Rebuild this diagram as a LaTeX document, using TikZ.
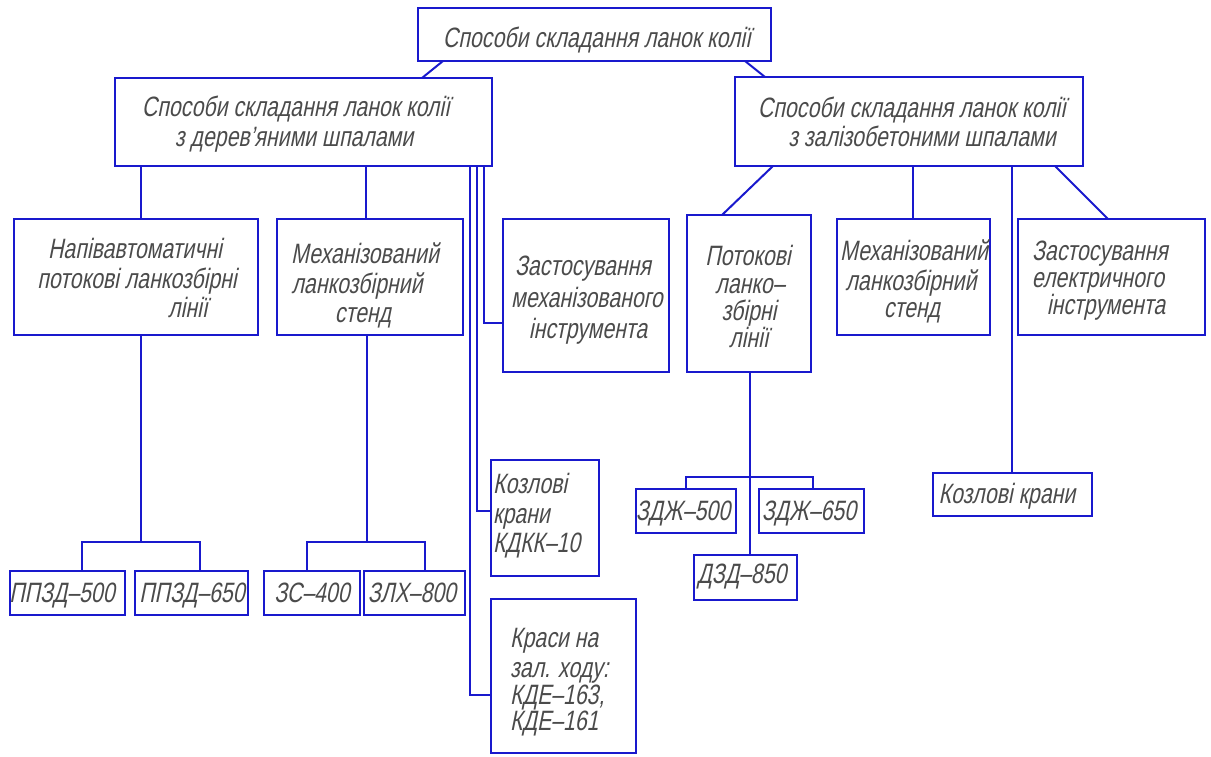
\documentclass[tikz,border=0pt]{standalone}
\usepackage{fontspec}
\newfontfamily\gost{Liberation Sans}[FakeSlant=0.2,FakeStretch=0.76]
\definecolor{lnblue}{RGB}{25,25,205}
\definecolor{txgray}{RGB}{75,75,75}
\newcommand\bx[5]{\node[blk,minimum width={(#4)-(#2)},minimum height={(#5)-(#3)}] (#1) at ({((#2)+(#4))/2},{((#3)+(#5))/2}) {};}
\newcommand\tl[4]{\node[txt] (#1) at (#2,#3) {#4};}
\newcommand\tlw[4]{\node[txt,anchor=base west] (#1) at (#2,#3) {#4};}
\begin{document}
\begin{tikzpicture}[x=1pt,y=-1pt,
  blk/.style={draw=lnblue,line width=2pt,inner sep=0pt,outer sep=0pt},
  wire/.style={draw=lnblue,line width=2pt},
  txt/.style={font=\gost\fontsize{28}{30}\selectfont,text=txgray,inner sep=0pt,anchor=base}]
\useasboundingbox (0,0) rectangle (1211,756);
% boxes
\bx{top}{418}{8}{771}{61}
\bx{wood}{115}{78}{492}{166}
\bx{conc}{735}{77}{1083}{166}
\bx{napiv}{14}{219}{258}{335}
\bx{mech1}{277}{219}{463}{335}
\bx{zmech}{503}{219}{669}{372}
\bx{potok}{687}{215}{811}{372}
\bx{mech2}{837}{219}{990}{335}
\bx{zel}{1018}{219}{1205}{335}
\bx{p500}{10}{571}{125}{615}
\bx{p650}{135}{571}{248}{615}
\bx{zs}{264}{571}{360}{615}
\bx{zlh}{364}{571}{465}{615}
\bx{kdkk}{491}{460}{599}{576}
\bx{krasy}{491}{599}{636}{753}
\bx{zd500}{636}{489}{736}{533}
\bx{zd650}{759}{489}{864}{533}
\bx{dzd}{694}{555}{797}{600}
\bx{kozl}{933}{473}{1092}{516}
% texts
\tl{t1}{597}{47}{Способи складання ланок колії}
\tl{t2}{296}{116}{Способи складання ланок колії}
\tl{t3}{294}{146}{з дерев’яними шпалами}
\tl{t4}{912}{117}{Способи складання ланок колії}
\tl{t5}{922}{146}{з залізобетоними шпалами}
\tl{t6}{135}{258}{Напівавтоматичні}
\tl{t7}{137}{288}{потокові ланкозбірні}
\tl{t8}{188}{317}{лінії}
\tl{t9}{365}{263}{Механізований}
\tl{t10}{357}{293}{ланкозбірний}
\tl{t11}{363}{322}{стенд}
\tl{t12}{583}{275}{Застосування}
\tl{t13}{587}{307}{механізованого}
\tl{t14}{588}{338}{інструмента}
\tl{t15}{748}{265}{Потокові}
\tl{t16}{750}{293}{ланко–}
\tl{t17}{749}{320}{збірні}
\tl{t18}{749}{347}{лінії}
\tl{t19}{914}{260}{Механізований}
\tl{t20}{911}{290}{ланкозбірний}
\tl{t21}{912}{317}{стенд}
\tl{t22}{1100}{260}{Застосування}
\tl{t23}{1098}{287}{електричного}
\tl{t24}{1106}{314}{інструмента}
\tl{t25}{62}{602}{ППЗД–500}
\tl{t26}{192}{602}{ППЗД–650}
\tl{t27}{312}{602}{ЗС–400}
\tl{t28}{412}{602}{ЗЛХ–800}
\tlw{t29}{493}{493}{Козлові}
\tlw{t30}{493}{523}{крани}
\tlw{t31}{493}{552}{КДКК–10}
\tlw{t32}{510}{647}{Краси на}
\tlw{t33}{510}{677}{зал. ходу:}
\tlw{t34}{510}{704}{КДЕ–163,}
\tlw{t35}{510}{730}{КДЕ–161}
\tl{t36}{683}{520}{ЗДЖ–500}
\tl{t37}{809}{520}{ЗДЖ–650}
\tl{t38}{742}{583}{ДЗД–850}
\tl{t39}{1007}{503}{Козлові крани}
% connectors
\draw[wire] (443,0 |- top.south) -- (422,0 |- wood.north);
\draw[wire] (745,0 |- top.south) -- (765,0 |- conc.north);
\draw[wire] (141,0 |- wood.south) -- (141,0 |- napiv.north);
\draw[wire] (366,0 |- wood.south) -- (366,0 |- mech1.north);
\draw[wire] (484,0 |- wood.south) |- (zmech.west |- 0,323);
\draw[wire] (477,0 |- wood.south) |- (kdkk.west |- 0,511);
\draw[wire] (470,0 |- wood.south) |- (krasy.west |- 0,695);
\coordinate (j1) at (141,542);
\draw[wire] (141,0 |- napiv.south) -- (j1);
\draw[wire] (82,0 |- p500.north) |- (j1) -| (200,0 |- p650.north);
\coordinate (j2) at (367,542);
\draw[wire] (367,0 |- mech1.south) -- (j2);
\draw[wire] (307,0 |- zs.north) |- (j2) -| (425,0 |- zlh.north);
\draw[wire] (773,0 |- conc.south) -- (722,0 |- potok.north);
\draw[wire] (913,0 |- conc.south) -- (913,0 |- mech2.north);
\draw[wire] (1012,0 |- conc.south) -- (1012,0 |- kozl.north);
\draw[wire] (1055,0 |- conc.south) -- (1108,0 |- zel.north);
\coordinate (j3) at (750,477);
\draw[wire] (750,0 |- potok.south) -- (750,0 |- dzd.north);
\draw[wire] (686,0 |- zd500.north) |- (j3) -| (813,0 |- zd650.north);
\end{tikzpicture}
\end{document}
